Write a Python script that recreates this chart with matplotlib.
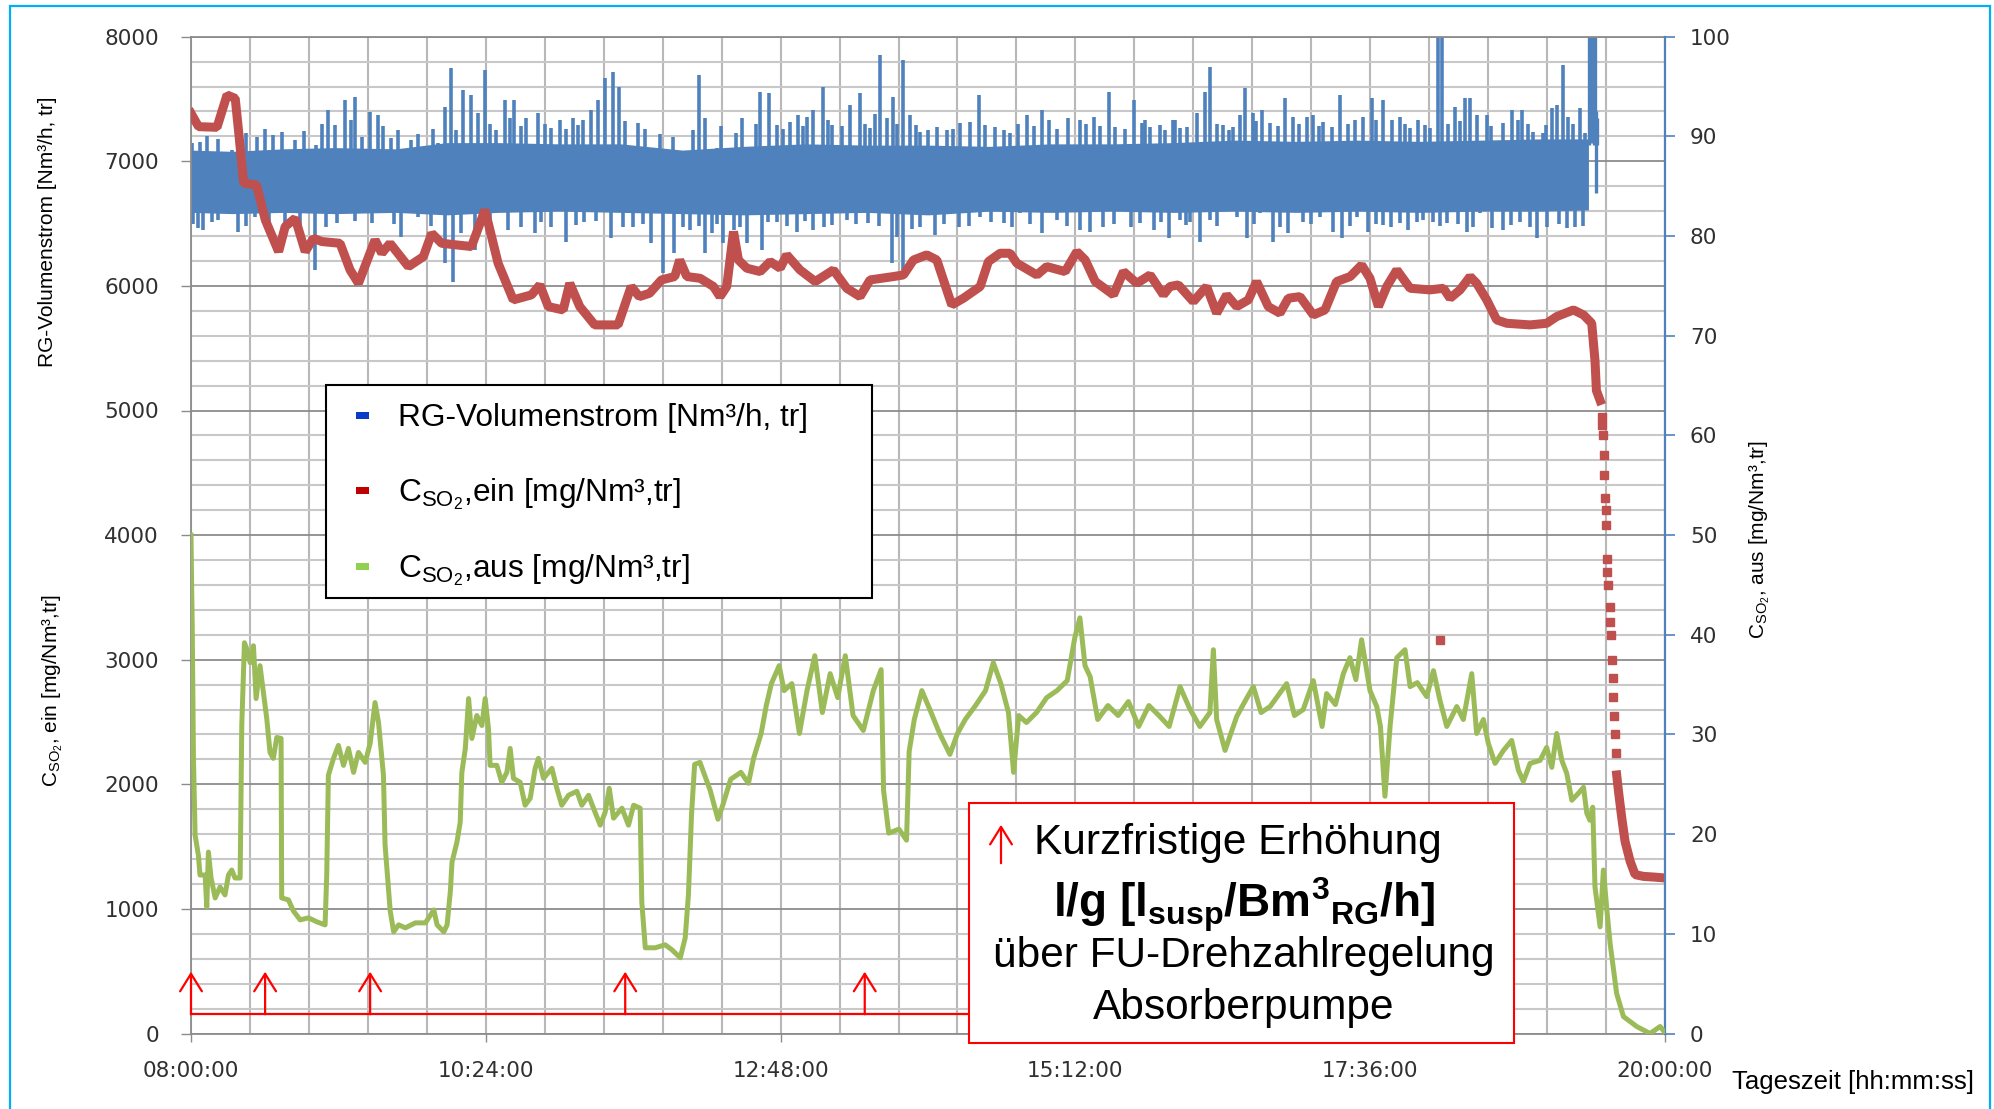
import numpy as np
import matplotlib
matplotlib.use("Agg")
import matplotlib.pyplot as plt
from matplotlib.patches import Rectangle, FancyArrowPatch

plt.rcParams["font.family"] = ["Liberation Sans", "DejaVu Sans"]
plt.rcParams["mathtext.fontset"] = "custom"
plt.rcParams["mathtext.rm"] = "Liberation Sans"
plt.rcParams["mathtext.it"] = "Liberation Sans:italic"
plt.rcParams["mathtext.bf"] = "Liberation Sans:bold"

# ---- data (time in minutes after 08:00) ----
# RG-Volumenstrom: dense core band plus single spikes
core_t = [0, 20, 45, 70, 100, 125, 150, 180, 210, 240, 270, 300, 330, 360, 390,
          420, 450, 480, 510, 540, 570, 600, 630, 660, 682.6]
core_lo = [6590, 6580, 6590, 6580, 6590, 6570, 6590, 6600, 6590, 6580, 6570, 6580, 6590,
           6570, 6600, 6590, 6600, 6590, 6600, 6590, 6600, 6590, 6600, 6600, 6610]
core_hi = [7090, 7080, 7100, 7110, 7100, 7150, 7150, 7140, 7140, 7090, 7120, 7140, 7130,
           7130, 7120, 7140, 7140, 7150, 7170, 7160, 7170, 7160, 7170, 7180, 7180]

up_t = [0.4, 4.4, 19.9, 32.1, 40.2, 44.3, 50.8, 61.3, 67, 70.3, 75.1, 80, 83.3, 87.3, 91.4,
        97.9, 107.7, 120.7, 124, 127.2, 129.6, 132.9, 136.9, 140.2, 143.4, 149.1, 153.2,
        158, 163.8, 169.5, 176, 180, 186.5, 191.4, 195.5, 198.7, 202, 206, 209.3, 218.2,
        235.3, 242.2, 247.9, 251.1, 256.8, 263.3, 269, 273.1, 278, 282.1, 286.1, 292.6,
        296.7, 300.8, 304, 308.9, 313, 322, 326.8, 331.7, 336.6, 339.9, 343.1, 347.7,
        351.3, 356.2, 364.3, 369.2, 375.7, 380.6, 384.7, 392.8, 400.1, 408.3, 415.6,
        418.9, 428.6, 434.3, 440.9, 448.2, 451.4, 460.4, 464.5, 468.5, 473.4, 479.9,
        480.6, 486.3, 491.2, 495.3, 497.7, 504.3, 509.1, 512.4, 514.8, 518.9, 523,
        527.1, 534.4, 538.5, 545, 548.2, 553.1, 557.2, 561.3, 568.6, 572.7, 576.7,
        582.4, 586.5, 590.6, 595.5, 599.5, 605.2, 609.3, 611, 617.4, 622.3, 624.8,
        628, 632.9, 641.1, 645.1, 650, 655.7, 660.6, 664.7, 667.1, 670, 672.8, 678.5, 681]
up_v = [7144, 7158, 7091, 7198, 7211, 7238, 7171, 7131, 7412, 7291, 7492, 7519, 7198, 7398,
        7372, 7184, 7171, 7144, 7439, 7746, 7251, 7572, 7532, 7385, 7733, 7251, 7492,
        7492, 7345, 7385, 7265, 7332, 7345, 7332, 7412, 7492, 7666, 7719, 7599, 7305,
        7198, 7037, 7693, 7345, 7104, 7037, 7345, 7118, 7559, 7545, 7291, 7318,
        7372, 7358, 7412, 7599, 7291, 7452, 7545, 7265, 7853, 7345, 7519, 7813,
        7372, 7238, 7278, 7251, 7305, 7318, 7532, 7278, 7225, 7372, 7412,
        7332, 7345, 7332, 7358, 7559, 7278, 7492, 7305, 7278, 7291, 7332,
        7332, 7278, 7385, 7559, 7759, 7291, 7278, 7372, 7586, 7385, 7412,
        7305, 7505, 7358, 7358, 7372, 7318, 7278, 7532, 7332, 7358, 7505,
        7492, 7332, 7358, 7265, 7332, 7265, 8100, 8100, 7439, 7505, 7505,
        7372, 7372, 7305, 7412, 7412, 7238, 7225, 7425, 7452, 7773, 7358, 7425, 7225]
fringe_up_t = [8, 13, 27, 36, 55, 64, 78, 94, 101, 111, 118, 146, 156, 161, 173, 183, 189,
               212, 222, 229, 245, 259, 266, 276, 289, 299, 311, 318, 329, 334, 345, 354,
               360, 372, 388, 397, 404, 412, 423, 437, 444, 456, 466, 476, 483, 501, 507,
               520, 531, 541, 551, 565, 579, 593, 603, 614, 620, 635, 648, 653, 662, 675]
fringe_up_v = [7200, 7180, 7230, 7260, 7240, 7300, 7330, 7280, 7250, 7220, 7260, 7300, 7350,
               7280, 7300, 7260, 7290, 7320, 7260, 7220, 7250, 7280, 7230, 7300, 7260, 7280,
               7330, 7280, 7300, 7380, 7300, 7290, 7250, 7260, 7290, 7250, 7300, 7280, 7260,
               7300, 7280, 7260, 7330, 7250, 7270, 7300, 7250, 7320, 7280, 7300, 7280, 7300,
               7330, 7300, 7290, 7300, 7320, 7280, 7330, 7300, 7290, 7300]

dn_t = [3.6, 6, 10.1, 15.8, 23.1, 31.2, 45.9, 60.5, 71.1, 88.2, 94.7, 102.8, 110.9, 124,
        128, 132.1, 138.6, 154.8, 167.8, 176, 183.3, 192.2, 205.2, 215.8, 224.7, 230.4,
        236.1, 240.5, 243.8, 251.1, 254.4, 260.1, 265, 271.5, 278.8, 286.1, 295.9, 304,
        313, 320.3, 330.9, 342.3, 344.8, 348, 356.2, 363.5, 374.9, 385.5, 396.9, 405,
        415.6, 422.9, 434.3, 439.2, 445.7, 455.5, 463.7, 470.2, 477.5, 483.1, 488,
        492.9, 497.7, 504.3, 510.8, 515.7, 522.2, 528.7, 536, 543.3, 551.5, 558, 562.1,
        569.4, 575.1, 582.4, 590.6, 594.7, 602, 606.9, 613.4, 623.1, 629.7, 635.4,
        641.1, 649.2, 657.4, 662.2, 672, 676.1]
dn_v = [6463, 6449, 6516, 6596, 6436, 6556, 6396, 6128, 6503, 6503, 6583, 6396, 6556, 6182,
        6035, 6422, 6289, 6449, 6422, 6476, 6356, 6516, 6382, 6476, 6342, 6102,
        6262, 6476, 6449, 6262, 6422, 6342, 6449, 6342, 6289, 6516, 6436, 6449,
        6489, 6530, 6503, 6182, 6396, 6128, 6476, 6409, 6476, 6556, 6503, 6583,
        6422, 6530, 6449, 6436, 6476, 6610, 6503, 6449, 6382, 6530, 6516,
        6356, 6530, 6610, 6556, 6382, 6583, 6356, 6422, 6516, 6556, 6436, 6382,
        6556, 6436, 6489, 6503, 6449, 6530, 6516, 6503, 6436, 6583, 6463,
        6449, 6516, 6382, 6476, 6463, 6476]
fringe_dn_t = [1, 13, 27, 38, 53, 66, 80, 99, 117, 146, 161, 171, 188, 198, 211, 221, 248,
               257, 268, 282, 291, 300, 309, 325, 336, 352, 368, 380, 391, 401, 410, 428,
               451, 459, 474, 486, 501, 519, 532, 547, 566, 579, 586, 599, 610, 619, 626,
               645, 654, 668, 680]
fringe_dn_v = [6500, 6530, 6480, 6510, 6490, 6470, 6520, 6500, 6480, 6500, 6470, 6510, 6490,
               6520, 6470, 6500, 6480, 6500, 6470, 6510, 6480, 6520, 6470, 6500, 6480, 6460,
               6500, 6480, 6510, 6470, 6500, 6480, 6500, 6470, 6510, 6490, 6480, 6500, 6470,
               6500, 6480, 6500, 6470, 6510, 6480, 6500, 6470, 6490, 6470, 6500, 6480]

tail_t = [682.8, 683.4, 684.0, 684.6, 685.2, 685.8, 686.4, 687.0]
tail_lo = [7131, 7200, 7150, 7250, 7131, 7300, 6743, 7131]
tail_hi = [8100, 8100, 8100, 8100, 8100, 8100, 7400, 7350]

# CSO2,ein (left axis)
red_t = [0, 3.7, 12.7, 17.6, 21.6, 23.5, 25.7, 32, 36.3, 42.8, 46, 50.9, 55.8, 59.8, 63.9,
         72.8, 77.7, 81.8, 89.9, 93.2, 97.2, 106.2, 113.5, 117.6, 122.4, 137, 143.6, 150,
         157.4, 166.3, 170.4, 174.5, 181.8, 185, 189.9, 197.2, 208.6, 215, 219, 224,
         229.8, 236.3, 238.7, 242.2, 248.7, 255.2, 258.4, 261.7, 265, 267.4, 271.5, 278,
         282.9, 287.8, 291, 297.5, 304.9, 313.8, 320.3, 326.8, 331.7, 343.1, 348, 352.9,
         359.4, 364.3, 371.6, 377.3, 385.5, 389.5, 395.2, 400.1, 403.4, 413.2, 418, 427,
         432.7, 436.8, 441.7, 450.6, 455.5, 462, 468.5, 475, 478.2, 482.3, 489.6, 496.1,
         501, 505.9, 510.8, 516.5, 520.5, 526.2, 531.9, 536, 541.7, 548.2, 553.9, 559.6,
         566.2, 571.8, 575.9, 580, 584.1, 589, 595.5, 605.2, 611.8, 615, 619.9, 624.8,
         628, 632.9, 637.8, 642.7, 654.1, 662.2, 667.1, 675.3, 680.2, 684.2, 685.8,
         686.5, 688.3]
red_v = [7385, 7278, 7273, 7532, 7505, 7200, 6824, 6810, 6529, 6275, 6476, 6543, 6275, 6382,
         6356, 6342, 6128, 6021, 6369, 6262, 6342, 6155, 6235, 6422, 6342, 6316, 6610, 6182,
         5888, 5928, 6008, 5834, 5807, 6021, 5834, 5687, 5687, 5995, 5914, 5941,
         6048, 6075, 6208, 6075, 6061, 5995, 5914, 5995, 6436, 6208, 6142, 6115,
         6195, 6142, 6249, 6128, 6035, 6128, 5981, 5914, 6048, 6075, 6088, 6208,
         6249, 6208, 5847, 5901, 5995, 6195, 6262, 6262, 6182, 6088, 6155, 6115,
         6275, 6208, 6035, 5928, 6115, 6021, 6088, 5928, 5995, 6008, 5874, 5995,
         5781, 5928, 5834, 5888, 6035, 5834, 5781, 5901, 5914, 5767, 5807, 6035,
         6075, 6168, 6061, 5834, 5995, 6128, 5981, 5968, 5981, 5901, 5968, 6075,
         6021, 5888, 5727, 5700, 5687, 5700, 5754, 5807, 5767, 5700, 5400,
         5160, 5080]
red_dot_t = [689.0, 689.3, 689.6, 690.0, 690.4, 690.8, 691.0, 691.2, 691.6, 691.9, 692.2,
             692.9, 693.2, 693.5, 694.0, 694.4, 694.8, 695.2, 695.6, 696.0, 610.1]
red_dot_v = [4950, 4880, 4800, 4640, 4480, 4300, 4200, 4080, 3808, 3700, 3600,
             3420, 3300, 3200, 3000, 2850, 2700, 2550, 2400, 2250, 3158]
red_end_t = [696.4, 697.3, 698.9, 700.5, 703, 705.4, 709.5, 715, 720]
red_end_v = [2075, 1941, 1728, 1541, 1381, 1275, 1261, 1255, 1248]

# CSO2,aus (right axis)
green_t = [0, 0.3, 0.6, 1.2, 2, 3.6, 4.4, 6.9, 7.7, 8.5, 9.8, 11.8, 14.2, 16.6, 18.3, 19.9,
           21.5, 24, 24.8, 26.1, 27.2, 28.9, 30.5, 31.8, 33.7, 35.4, 37, 38.6, 40.2, 41.9,
           44, 44.3, 47.6, 50, 53.3, 57.4, 61.5, 65.5, 66.3, 67.1, 69.6, 72, 74.5, 76.9,
           79.4, 81.8, 85.1, 87.5, 89.9, 91.6, 94, 94.8, 97.3, 99, 101.4, 104.7, 109.6,
           114.5, 118.6, 120.2, 123.5, 125.1, 126.7, 127.5, 129.9, 131.5, 132.3, 134,
           135.6, 137.2, 139.6, 142.1, 143.7, 145.3, 146.1, 149.4, 151.8, 154.3, 155.9,
           157.5, 160.8, 163.2, 165.7, 168.1, 169.7, 172.2, 176.3, 178.7, 181.1, 184.4,
           188.5, 190.9, 194.2, 196.6, 199.9, 202.3, 204.3, 206.4, 210.5, 213.7, 216.2,
           219.4, 220.2, 221.9, 226.8, 231.6, 234.9, 239, 241.4, 243, 244.5, 246, 248.6,
           253.6, 257.4, 259.9, 263.6, 268.6, 272.3, 274.8, 278.5, 281, 283.5, 287.3,
           289.7, 293.5, 297.2, 300.9, 304.7, 308.4, 312.2, 315.9, 319.6, 323.4, 328.4,
           333.3, 337.1, 338.3, 340.8, 345.8, 349.5, 350.8, 353.3, 357, 360.7, 365.7,
           370.7, 374.4, 378.2, 383.2, 388.1, 391.9, 395.6, 399.3, 401.8, 404.3, 408.1,
           413, 418, 423, 428, 431.7, 434.2, 436.7, 439.2, 442.9, 447.9, 452.9, 457.9,
           462.9, 467.9, 472.8, 477.8, 483.1, 487.8, 492.8, 497.7, 499.4, 501, 505.1,
           510.8, 514.5, 518.9, 522.7, 527.1, 531, 535.2, 539, 543.3, 548.2, 552.5,
           554.7, 559, 562.9, 566.1, 569, 571.8, 575.9, 579.2, 581, 583.2, 585.7, 589,
           593, 595.5, 599, 603.6, 606.9, 610.1, 613.4, 618.3, 621.5, 625.6, 628, 631.3,
           633.7, 637, 641.1, 645.1, 648.4, 650.8, 654.1, 659, 662.2, 664.7, 667.1,
           669.6, 672, 674.5, 677.7, 680.2, 681.8, 683.3, 684.7, 685.8, 688.3, 689.9,
           691.6, 693.2, 696.4, 699.7, 706.2, 712.7, 717.6, 720]
green_v = [50, 45, 41, 27.6, 19.9, 17.9, 15.9, 15.9, 12.7, 18.2, 15.6, 13.6, 14.7, 13.9, 15.9,
           16.4, 15.6, 15.6, 30.9, 39.2, 38.6, 37.2, 38.9, 33.6, 36.9, 34.2, 31.6, 28.2, 27.6,
           29.7, 29.6, 13.6, 13.4, 12.3, 11.4, 11.6, 11.2, 10.9, 15.9, 25.9, 27.6, 28.9, 26.9,
           28.6, 26.2, 28.2, 27.2, 29.1, 33.2, 31.2, 25.9, 18.9, 12.3, 10.2, 10.9, 10.6, 11.1,
           11.1, 12.4, 10.9, 10.2, 10.9, 14.3, 17.2, 19.2, 21.2, 26.2, 28.6,
           33.6, 29.6, 31.9, 30.9, 33.6, 30.6, 26.9, 26.9, 25.2, 26.2, 28.6,
           25.6, 25.2, 22.9, 23.6, 26.6, 27.6, 25.6, 26.6, 24.6, 22.9, 23.9,
           24.3, 22.9, 23.9, 22.6, 20.9, 22.2, 24.6, 21.6, 22.6, 20.9, 22.9,
           22.6, 13.2, 8.6, 8.6, 8.9, 8.4, 7.6, 9.6, 14, 22, 27, 27.2,
           24.4, 21.5, 23, 25.5, 26.2, 25.1, 27.6, 30.1, 32.9, 35.1, 36.9,
           34.4, 35.1, 30.1, 34.4, 37.9, 32.2, 36.1, 33.7, 37.9, 31.9, 30.4,
           34.4, 36.5, 24.4, 20.1, 20.5, 19.4, 28.3, 31.5, 34.4, 32.6, 30.1,
           28, 30.1, 31.5, 32.9, 34.4, 37.2, 35.1, 32.2, 26.2, 31.9, 31.2,
           32.2, 33.7, 34.4, 35.4, 39.7, 41.7, 36.9, 35.8, 31.5, 32.9, 31.9, 33.3,
           30.8, 32.9, 31.9, 30.8, 34.8, 32.6, 30.8, 32.2, 38.5, 31.5, 28.4,
           31.8, 33.2, 34.8, 32.2, 32.8, 33.9, 35.1, 31.9, 32.5, 35.4, 30.8,
           34.1, 33, 36.1, 37.7, 35.5, 39.5, 34.4, 32.8, 30.8, 23.8, 30.8, 37.7,
           38.5, 34.8, 35.2, 33.8, 36.4, 33.4, 30.8, 32.8, 31.5, 36.1, 30.1, 31.5,
           29.1, 27.1, 28.4, 29.4, 26.4, 25.3, 27.1, 27.4, 28.7, 26.7, 30.1,
           27.4, 26.1, 23.4, 24.1, 24.7, 22.1, 21.4, 22.7, 14.7, 10.7, 16.4,
           12.4, 9.0, 4.0, 1.7, 0.7, 0.0, 0.7, 0.1]

# moments of short-term increase of l/g (red arrows)
arrow_t = [0, 36.2, 87.5, 212.1, 329.1]

x_ticks = [0, 144, 288, 432, 576, 720]
x_labels = ["08:00:00", "10:24:00", "12:48:00", "15:12:00", "17:36:00", "20:00:00"]

BLUE = "#4F81BD"
RED = "#C0504D"
GREEN = "#9BBB59"

W, H = 1994, 1109
fig = plt.figure(figsize=(W / 100, H / 100), dpi=100)


def fx(px):
    return px / W


def fy(py):
    return 1 - py / H


ax = fig.add_axes([fx(191), fy(1033.5), (1665 - 191) / W, (1033.5 - 36.7) / H])
ax.set_xlim(0, 720)
ax.set_ylim(0, 8000)

ax.set_xticks(x_ticks)
ax.set_xticklabels(x_labels)
ax.set_xticks(np.arange(0, 721, 28.8), minor=True)
ax.set_yticks(range(0, 8001, 1000))
ax.set_yticks([v for v in range(0, 8001, 200) if v % 1000], minor=True)

ax.xaxis.grid(True, which="both", color="#B8B8B8", lw=1.5)
ax.yaxis.grid(True, which="minor", color="#C8C8C8", lw=1.5)
ax.yaxis.grid(True, which="major", color="#8C8C8C", lw=1.3)
ax.set_axisbelow(True)

for s in ["left", "bottom", "top"]:
    ax.spines[s].set_color("#8C8C8C")
    ax.spines[s].set_linewidth(1.3)
ax.spines["right"].set_visible(False)

ax.tick_params(axis="y", which="major", length=7, width=1, color="#8C8C8C", pad=16,
               labelsize=15.5, labelcolor="#303030", labelfontfamily="DejaVu Sans")
ax.tick_params(axis="x", which="major", length=6, width=1, color="#8C8C8C", pad=14,
               labelsize=15.5, labelcolor="#303030", labelfontfamily="DejaVu Sans")
ax.tick_params(which="minor", length=0)

# blue
ax.fill_between(core_t, core_lo, core_hi, color=BLUE, lw=0, zorder=2)
ax.vlines(up_t, 6870, up_v, color=BLUE, lw=2.6, zorder=2)
ax.vlines(fringe_up_t, 6870, fringe_up_v, color=BLUE, lw=2.6, zorder=2)
ax.vlines(dn_t, dn_v, 6870, color=BLUE, lw=2.6, zorder=2)
ax.vlines(fringe_dn_t, fringe_dn_v, 6870, color=BLUE, lw=2.6, zorder=2)
ax.vlines(tail_t, tail_lo, tail_hi, color=BLUE, lw=2.4, zorder=2)

# red
ax.plot(red_t, red_v, color=RED, lw=6.5, solid_joinstyle="bevel", zorder=3)
ax.plot(red_dot_t, red_dot_v, "s", ms=5.5, color=RED, zorder=3)
ax.plot(red_end_t, red_end_v, color=RED, lw=6.5, solid_joinstyle="bevel", zorder=3)

ax2 = ax.twinx()
ax2.set_ylim(0, 100)
ax2.set_yticks(range(0, 101, 10))
for s in ["left", "bottom", "top"]:
    ax2.spines[s].set_visible(False)
ax2.spines["right"].set_color(BLUE)
ax2.spines["right"].set_linewidth(1.6)
ax2.tick_params(axis="y", length=7, width=1.2, color=BLUE, pad=11,
                labelsize=15.5, labelcolor="#303030", labelfontfamily="DejaVu Sans")

ax2.plot(green_t, green_v, color=GREEN, lw=3.6, zorder=4)

# red arrows on a base line
ax2.plot([0, 380.2], [1.93, 1.93], color="#FF0000", lw=1.6, zorder=5, clip_on=False)
for t in arrow_t:
    ax2.annotate("", xy=(t, 6.2), xytext=(t, 1.93), annotation_clip=False,
                 arrowprops=dict(arrowstyle="->,head_length=0.45,head_width=0.28",
                                 color="#FF0000", lw=1.6, mutation_scale=28,
                                 shrinkA=0, shrinkB=0), zorder=5)

# axis titles
fig.text(fx(48), fy(232), "RG-Volumenstrom [Nm³/h, tr]", rotation=90,
         ha="center", va="center", fontsize=15)
fig.text(fx(53), fy(690), r"C$\mathregular{_{SO_2}}$, ein [mg/Nm³,tr]", rotation=90,
         ha="center", va="center", fontsize=15)
fig.text(fx(1760), fy(539), r"C$\mathregular{_{SO_2}}$, aus [mg/Nm³,tr]", rotation=90,
         ha="center", va="center", fontsize=15)
fig.text(fx(1732), fy(1082), "Tageszeit [hh:mm:ss]", ha="left", va="center",
         fontsize=18.5)

# legend
fig.add_artist(Rectangle((fx(325.5), fy(598)), (872.4 - 325.5) / W, (598 - 385) / H,
                         transform=fig.transFigure, facecolor="white",
                         edgecolor="black", lw=1.5, zorder=6))
leg_rows = [415, 490.5, 566]
leg_cols = ["#0A3CC8", "#C00000", "#92D050"]
leg_txt = ["RG-Volumenstrom [Nm³/h, tr]",
           r"C$\mathregular{_{SO_2}}$,ein [mg/Nm³,tr]",
           r"C$\mathregular{_{SO_2}}$,aus [mg/Nm³,tr]"]
for yr, c, txt in zip(leg_rows, leg_cols, leg_txt):
    fig.add_artist(Rectangle((fx(356), fy(yr + 3.5)), 13 / W, 7 / H,
                             transform=fig.transFigure, facecolor=c, lw=0, zorder=7))
    fig.text(fx(398), fy(yr + 11), txt, ha="left", va="baseline", fontsize=22.8,
             zorder=7)

# annotation box
fig.add_artist(Rectangle((fx(969), fy(1043)), (1514 - 969) / W, (1043 - 803) / H,
                         transform=fig.transFigure, facecolor="white",
                         edgecolor="#FF0000", lw=1.5, zorder=6))
fig.add_artist(FancyArrowPatch(
    (fx(1001), fy(866)), (fx(1001), fy(822)), transform=fig.transFigure,
    arrowstyle="->,head_length=0.45,head_width=0.28", mutation_scale=28,
    color="#FF0000", lw=1.6, zorder=7))
fig.text(fx(1034), fy(843), "Kurzfristige Erhöhung", ha="left", va="center",
         fontsize=30.5, zorder=7)
fig.text(fx(1244), fy(905), r"$\mathbf{l/g\ [l_{susp}/Bm^{3}{}_{RG}/h]}$",
         ha="center", va="center", fontsize=33, zorder=7)
fig.text(fx(1244), fy(956), "über FU-Drehzahlregelung", ha="center", va="center",
         fontsize=30.5, zorder=7)
fig.text(fx(1244), fy(1008), "Absorberpumpe", ha="center", va="center",
         fontsize=30.5, zorder=7)

# outer frame
fig.add_artist(Rectangle((fx(10), fy(1115)), (1990 - 10) / W, (1115 - 6) / H,
                         transform=fig.transFigure, fill=False,
                         edgecolor="#00B0F0", lw=1.6, zorder=8))

fig.savefig("out.png", dpi=100)
